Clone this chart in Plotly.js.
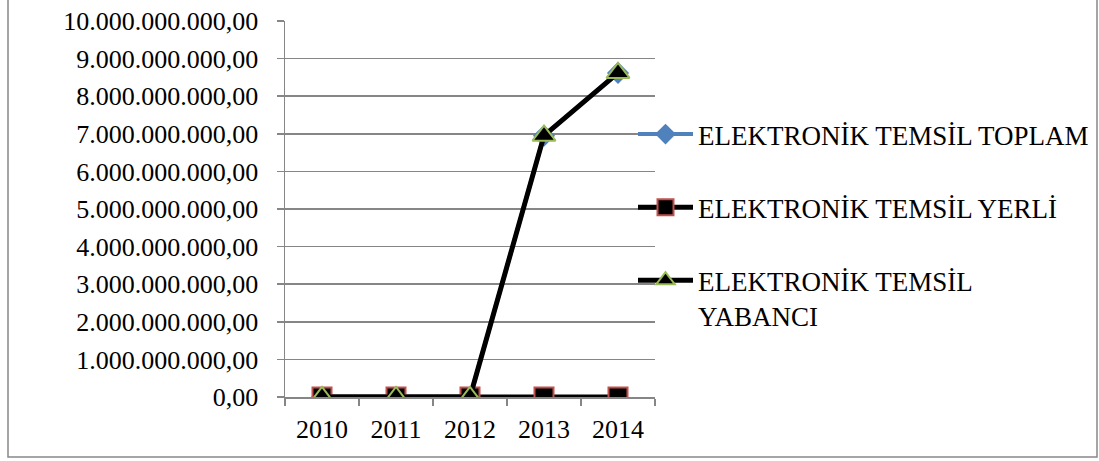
<!DOCTYPE html>
<html>
<head>
<meta charset="utf-8">
<script src="https://cdn.plot.ly/plotly-3.0.1.min.js"></script>
<style>
  html, body { margin: 0; padding: 0; background: #fff; }
  #chart { width: 1099px; height: 461px; }
</style>
</head>
<body>
<div id="chart"></div>
<script>
// ---- data ----
const years = ['2010', '2011', '2012', '2013', '2014'];
const seriesNames = ['ELEKTRONİK TEMSİL TOPLAM', 'ELEKTRONİK TEMSİL YERLİ', 'ELEKTRONİK TEMSİL<br>YABANCI'];
const toplam  = [0, 0, 0, 6950000000, 8620000000];
const yerli   = [0, 0, 0, 0, 0];
const yabanci = [0, 0, 0, 6950000000, 8620000000];

// ---- layout constants (pixels) ----
const W = 1099, H = 461;
const plotL = 285, plotR = 655, plotT = 21, plotB = 397;
const pw = plotR - plotL, ph = plotB - plotT;
const px = x => (x - plotL) / pw;
const py = y => (plotB - y) / ph;

const font = 'Liberation Serif, Times New Roman, serif';
const fsTick = 26;
const fsLegend = 27;

const traces = [
  {
    x: years, y: toplam, name: seriesNames[0], type: 'scatter', mode: 'lines+markers',
    legendgroup: 'a',
    line: { color: '#4F81BD', width: 4 },
    marker: { symbol: 'diamond', size: 17, color: '#4F81BD', line: { width: 0 } }
  },
  {
    x: years, y: yerli, name: seriesNames[1], type: 'scatter', mode: 'lines+markers',
    legendgroup: 'b',
    line: { color: '#000000', width: 5 },
    marker: { symbol: 'square', size: 19, color: '#000000', line: { color: '#C0504D', width: 2 } }
  },
  {
    x: years, y: yabanci, name: seriesNames[2], type: 'scatter', mode: 'lines+markers',
    legendgroup: 'c',
    line: { color: '#000000', width: 5 },
    marker: { symbol: 'triangle-up', size: 20, color: '#000000', line: { color: '#9BBB59', width: 2 } }
  }
];

const layout = {
  width: W, height: H,
  margin: { l: plotL, r: W - plotR, t: plotT, b: H - plotB, pad: 0, autoexpand: false },
  paper_bgcolor: '#ffffff', plot_bgcolor: '#ffffff',
  separators: ',.',
  font: { family: font, size: fsTick, color: '#000000' },
  showlegend: true,
  legend: {
    xref: 'container', yref: 'container',
    x: 633 / W, xanchor: 'left',
    y: 1 - 110 / H, yanchor: 'top',
    font: { family: font, size: fsLegend, color: '#000000' },
    tracegroupgap: 35,
    itemwidth: 55,
    valign: 'top',
    bgcolor: 'rgba(0,0,0,0)'
  },
  xaxis: {
    type: 'category',
    range: [-0.5, 4.5],
    showgrid: false,
    showline: true, linecolor: '#868686', linewidth: 1.5,
    ticks: 'outside', tickson: 'boundaries', ticklen: 7, tickcolor: '#868686', tickwidth: 1.5,
    ticklabelstandoff: 8,
    tickfont: { family: font, size: fsTick, color: '#000000' },
    fixedrange: true, zeroline: false
  },
  yaxis: {
    range: [0, 10000000000],
    dtick: 1000000000,
    tickformat: ',.2f',
    showgrid: true, gridcolor: '#868686', gridwidth: 1.5,
    showline: true, linecolor: '#868686', linewidth: 1.5,
    ticks: 'outside', ticklen: 7, tickcolor: '#868686', tickwidth: 1.5,
    ticklabelstandoff: 13,
    tickfont: { family: font, size: fsTick, color: '#000000' },
    zeroline: false, fixedrange: true
  },
  shapes: [
    {
      type: 'rect', xref: 'paper', yref: 'paper',
      x0: px(8), x1: px(1097), y0: py(457), y1: py(-2),
      line: { color: '#888888', width: 1.5 }, fillcolor: 'rgba(0,0,0,0)', layer: 'below'
    }
  ]
};

Plotly.newPlot('chart', traces, layout, { staticPlot: true, displayModeBar: false });
</script>
</body>
</html>
